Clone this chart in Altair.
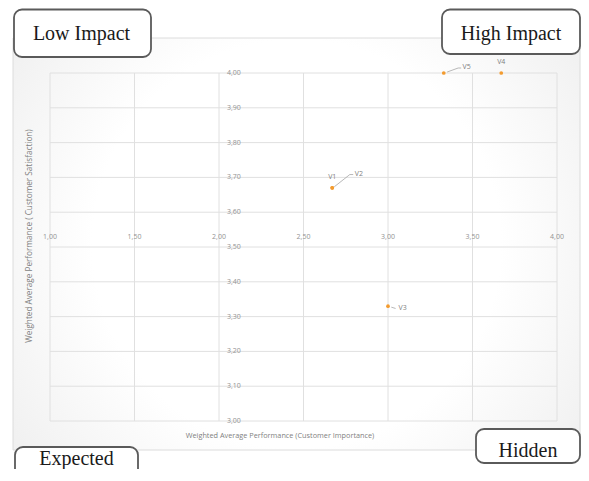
import altair as alt
import pandas as pd

# ---- data ----
labels = ["V1", "V2", "V3", "V4", "V5"]
importance = [2.67, 2.67, 3.00, 3.67, 3.33]      # x: Customer Importance
satisfaction = [3.67, 3.67, 3.33, 4.00, 4.00]    # y: Customer Satisfaction

x_ticks = [1.0, 1.5, 2.0, 2.5, 3.0, 3.5, 4.0]
x_tick_labels = ["1,00", "1,50", "2,00", "2,50", "3,00", "3,50", "4,00"]
y_ticks = [3.0, 3.1, 3.2, 3.3, 3.4, 3.5, 3.6, 3.7, 3.8, 3.9, 4.0]
y_tick_labels = ["3,00", "3,10", "3,20", "3,30", "3,40", "3,50",
                 "3,60", "3,70", "3,80", "3,90", "4,00"]

x_cross = 3.5   # value of y where the horizontal axis crosses
y_cross = 2.0   # value of x where the vertical axis crosses

quadrants = ["Low Impact", "High Impact", "Expected", "Hidden"]
x_title = "Weighted Average Performance (Customer Importance)"
y_title = "Weighted Average Performance ( Customer Satisfaction)"

# ---- tables ----
pts = pd.DataFrame({"label": labels, "x": importance, "y": satisfaction})
xt = pd.DataFrame({"v": x_ticks, "t": x_tick_labels, "c": [x_cross] * len(x_ticks)})
yt = pd.DataFrame({"v": y_ticks, "t": y_tick_labels, "c": [y_cross] * len(y_ticks)})
one = pd.DataFrame({"a": [0]})

xs = alt.Scale(domain=[1, 4], nice=False, zero=False)
ys = alt.Scale(domain=[3, 4], nice=False, zero=False)

GRID = "#e0e0e0"
TICK = "#939393"
LEAD = "#a6a6a6"
ORANGE = "#F39B2F"
SANS = "Open Sans"
SERIF = "Liberation Serif"

grad = alt.RadialGradient(
    gradient="radial",
    stops=[alt.GradientStop(offset=0, color="#ffffff"),
           alt.GradientStop(offset=0.5, color="#ffffff"),
           alt.GradientStop(offset=1, color="#eaeaea")],
    x1=0.5, y1=0.5, r1=0, x2=0.5, y2=0.5, r2=0.72,
)
bg = alt.Chart(one).mark_rect(fill=grad, stroke="#dcdcdc", strokeWidth=1, clip=False).encode(
    x=alt.value(-37), x2=alt.value(530), y=alt.value(-35), y2=alt.value(377)
)

vgrid = alt.Chart(xt).mark_rule(color=GRID, strokeWidth=1).encode(
    x=alt.X("v:Q", scale=xs, axis=None),
)
hgrid = alt.Chart(yt).mark_rule(color=GRID, strokeWidth=1).encode(
    y=alt.Y("v:Q", scale=ys, axis=None),
)

xlab = alt.Chart(xt).mark_text(align="center", baseline="middle", dy=-10,
                               fontSize=7, color=TICK, font=SANS).encode(
    x=alt.X("v:Q", scale=xs, axis=None),
    y=alt.Y("c:Q", scale=ys, axis=None),
    text="t:N",
)
ylab = alt.Chart(yt).mark_text(align="left", baseline="middle", dx=8,
                               fontSize=7, color=TICK, font=SANS).encode(
    y=alt.Y("v:Q", scale=ys, axis=None),
    x=alt.X("c:Q", scale=xs, axis=None),
    text="t:N",
)

xtitle = alt.Chart(one).mark_text(align="center", baseline="middle", fontSize=7.3,
                                  color="#7f7f7f", font=SANS).encode(
    x=alt.value(230), y=alt.value(363), text=alt.value(x_title)
)
ytitle = alt.Chart(one).mark_text(align="center", baseline="middle", fontSize=8.2,
                                  color="#7f7f7f", font=SANS, angle=270).encode(
    x=alt.value(-20), y=alt.value(163), text=alt.value(y_title)
)

base = alt.Chart(pts).encode(
    x=alt.X("x:Q", scale=xs, axis=None),
    y=alt.Y("y:Q", scale=ys, axis=None),
)
points = base.mark_circle(size=14, color=ORANGE, opacity=1)


def lab(name, **kw):
    return base.transform_filter(alt.datum.label == name).mark_text(
        fontSize=7, color="#7f7f7f", font=SANS, baseline="middle", **kw
    ).encode(text="label:N")


def lead(name, x0, y0, x1, y1):
    return base.transform_filter(alt.datum.label == name).mark_rule(
        color=LEAD, strokeWidth=0.8, xOffset=x0, yOffset=y0, x2Offset=x1, y2Offset=y1
    ).encode(x2="x:Q", y2="y:Q")


labels_layer = [
    lab("V1", align="center", dy=-10.6),
    lab("V2", align="left", dx=22.6, dy=-14),
    lead("V2", 2, -1, 17.6, -13.3),
    lead("V2", 17.6, -13.3, 21, -13.3),
    lab("V3", align="left", dx=10.6, dy=1.6),
    lead("V3", 3.3, 1, 7.6, 2.3),
    lab("V4", align="center", dy=-10.6),
    lab("V5", align="left", dx=18.7, dy=-6),
    lead("V5", 3.4, -1, 14.4, -5),
    lead("V5", 14.4, -5, 17.4, -5),
]


def box(x0, x1, y0, y1, tx, ty, text):
    r = alt.Chart(one).mark_rect(fill="white", stroke="#5a5a5a", strokeWidth=1.8,
                                 cornerRadius=8, clip=False).encode(
        x=alt.value(x0), x2=alt.value(x1), y=alt.value(y0), y2=alt.value(y1)
    )
    t = alt.Chart(one).mark_text(font=SERIF, fontSize=20, color="#1a1a1a",
                                 align="center", baseline="alphabetic").encode(
        x=alt.value(tx), y=alt.value(ty), text=alt.value(text)
    )
    return [r, t]


boxes = (box(-36, 101, -63.5, -16, 31.5, -33, quadrants[0])
         + box(392, 530, -63.5, -19, 461, -33, quadrants[1])
         + box(-35, 88, 374, 430, 26.5, 392, quadrants[2])
         + box(426, 530, 356, 390, 478, 384, quadrants[3]))

chart = alt.layer(
    bg, vgrid, hgrid, xlab, ylab, xtitle, ytitle, points, *labels_layer, *boxes
).properties(
    width=507, height=348,
    padding={"left": 42, "top": 65, "right": 24, "bottom": 48},
    autosize=alt.AutoSizeParams(type="none"),
    background="white",
).configure_view(stroke=None)

chart.save("out.html", embed_options={"renderer": "svg", "actions": False})
